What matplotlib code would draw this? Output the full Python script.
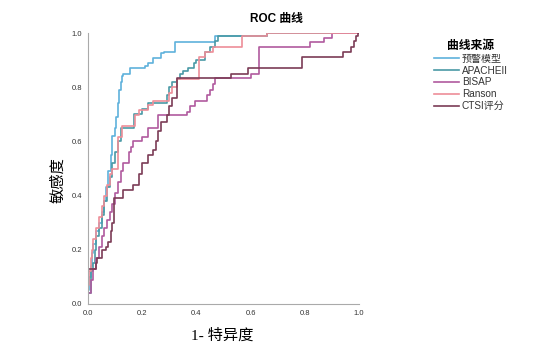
import matplotlib
matplotlib.use("Agg")
import matplotlib.pyplot as plt
from matplotlib.lines import Line2D

plt.rcParams['font.family'] = ['Liberation Sans', 'Noto Sans CJK SC', 'DejaVu Sans']

series_names = ["预警模型", "APACHEII", "BISAP", "Ranson", "CTSI评分"]
colors = ["#5fb1dc", "#4a9aa6", "#b05a9e", "#ee8e98", "#7c3c56"]

fpr_model = [0, 0, 0.005, 0.01, 0.015, 0.02, 0.03, 0.04, 0.05, 0.06, 0.065, 0.075, 0.085, 0.09, 0.1,
             0.105, 0.11, 0.115, 0.12, 0.125, 0.13, 0.155, 0.21, 0.22, 0.24, 0.27, 0.28, 0.32, 0.47, 0.66, 1.0]
tpr_model = [0, 0.05, 0.1, 0.14, 0.19, 0.22, 0.27, 0.3, 0.34, 0.38, 0.43, 0.49, 0.55, 0.62, 0.65,
             0.69, 0.74, 0.79, 0.82, 0.84, 0.85, 0.87, 0.88, 0.89, 0.907, 0.925, 0.93, 0.967, 0.99, 1.0, 1.0]

fpr_apache = [0, 0, 0.01, 0.02, 0.025, 0.03, 0.04, 0.05, 0.06, 0.07, 0.08, 0.09, 0.1, 0.11, 0.12, 0.17, 0.2,
              0.22, 0.29, 0.3, 0.31, 0.33, 0.34, 0.35, 0.37, 0.39, 0.4, 0.43, 0.45, 0.47, 0.48, 0.66, 1.0]
tpr_apache = [0, 0.04, 0.12, 0.15, 0.2, 0.25, 0.28, 0.33, 0.38, 0.43, 0.47, 0.52, 0.56, 0.6, 0.65, 0.7, 0.72,
              0.74, 0.77, 0.8, 0.82, 0.83, 0.85, 0.86, 0.87, 0.89, 0.9, 0.93, 0.95, 0.97, 0.99, 1.0, 1.0]

fpr_bisap = [0, 0, 0.01, 0.02, 0.03, 0.04, 0.05, 0.06, 0.07, 0.08, 0.09, 0.1, 0.11, 0.12, 0.13, 0.15, 0.16,
             0.167, 0.2, 0.22, 0.26, 0.366, 0.378, 0.396, 0.44, 0.45, 0.46, 0.47, 0.6, 0.63, 0.82, 0.87, 0.9, 1.0]
tpr_bisap = [0, 0.04, 0.09, 0.13, 0.17, 0.21, 0.25, 0.28, 0.31, 0.34, 0.37, 0.41, 0.45, 0.49, 0.52, 0.56, 0.58,
             0.6, 0.615, 0.65, 0.696, 0.71, 0.73, 0.75, 0.77, 0.79, 0.81, 0.833, 0.85, 0.95, 0.965, 0.98, 1.0, 1.0]

fpr_ranson = [0, 0, 0.005, 0.01, 0.015, 0.02, 0.03, 0.04, 0.05, 0.06, 0.07, 0.08, 0.09, 0.11, 0.126, 0.175,
              0.19, 0.22, 0.24, 0.3, 0.31, 0.33, 0.41, 0.43, 0.46, 0.57, 0.66, 1.0]
tpr_ranson = [0, 0.07, 0.12, 0.17, 0.2, 0.24, 0.28, 0.32, 0.36, 0.4, 0.44, 0.48, 0.5, 0.615, 0.655, 0.696,
              0.715, 0.733, 0.75, 0.78, 0.8, 0.83, 0.91, 0.93, 0.95, 0.99, 1.0, 1.0]

fpr_ctsi = [0, 0, 0.03, 0.035, 0.05, 0.065, 0.075, 0.085, 0.09, 0.095, 0.13, 0.165, 0.19, 0.2, 0.22, 0.24,
            0.25, 0.26, 0.27, 0.29, 0.3, 0.31, 0.33, 0.526, 0.59, 0.79, 0.94, 0.97, 0.98, 0.99, 0.995, 1.0]
tpr_ctsi = [0, 0.13, 0.15, 0.17, 0.2, 0.21, 0.23, 0.27, 0.3, 0.39, 0.42, 0.44, 0.48, 0.52, 0.55, 0.57,
            0.6, 0.64, 0.67, 0.696, 0.73, 0.76, 0.833, 0.85, 0.87, 0.91, 0.93, 0.95, 0.97, 0.99, 1.0, 1.0]

ticks = [0.0, 0.2, 0.4, 0.6, 0.8, 1.0]
tick_labels = ["0.0", "0.2", "0.4", "0.6", "0.8", "1.0"]

fig = plt.figure(figsize=(5.53, 3.45), dpi=100)
ax = fig.add_axes([88/553, 1-304/345, 271/553, 271/345])

curves = [(fpr_model, tpr_model), (fpr_apache, tpr_apache), (fpr_bisap, tpr_bisap),
          (fpr_ranson, tpr_ranson), (fpr_ctsi, tpr_ctsi)]
for (x, y), c in zip(curves, colors):
    ax.plot(x, y, drawstyle='steps-post', color=c, lw=1.2)

ax.set_xlim(0, 1.0)
ax.set_ylim(0, 1.0)
ax.set_xticks(ticks)
ax.set_xticklabels(tick_labels)
ax.set_yticks(ticks)
ax.set_yticklabels(tick_labels)
ax.tick_params(length=0, labelsize=5.5, labelcolor="#333333", pad=4)
for s in ["top", "right"]:
    ax.spines[s].set_visible(False)
for s in ["left", "bottom"]:
    ax.spines[s].set_color("#aaaaaa")
    ax.spines[s].set_linewidth(0.8)

fig.text(276/553, 1-19/345, "ROC 曲线", ha='center', va='center', fontsize=8.5, fontweight='bold',
         family=['Liberation Sans', 'Noto Sans CJK SC'])
fig.text(222/553, 1-336/345, "1- 特异度", ha='center', va='center', fontsize=11,
         family=['Liberation Serif', 'Noto Sans CJK SC'])
fig.text(58/553, 1-180/345, "敏感度", ha='center', va='center', fontsize=11, rotation=90,
         family=['Noto Sans CJK SC'])

handles = [Line2D([0], [0], color=c, lw=1.2) for c in colors]
leg = fig.legend(handles, series_names, loc='upper left', bbox_to_anchor=(425/553, 1-31/345),
                 frameon=False, fontsize=7.2, title="曲线来源", handlelength=2.5,
                 labelspacing=0.18, handletextpad=0.3)
leg.get_title().set_fontweight('bold')
leg.get_title().set_fontsize(8.5)
for t in leg.get_texts():
    t.set_color("#333333")

fig.savefig("out.png", dpi=100)
